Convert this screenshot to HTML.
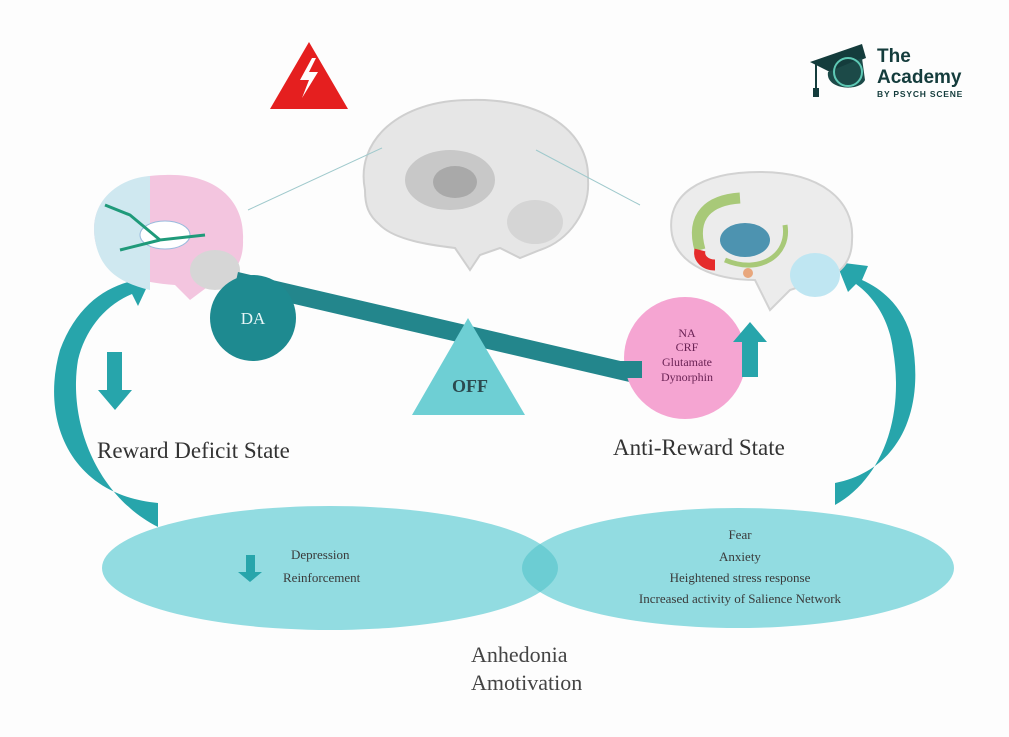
<!DOCTYPE html>
<html><head><meta charset="utf-8"><style>
html,body{margin:0;padding:0;background:#fff}
svg{display:block}
text{font-family:"Liberation Serif",serif}
</style></head><body>
<svg width="1009" height="737" viewBox="0 0 1009 737" xmlns="http://www.w3.org/2000/svg">
<rect width="1009" height="737" fill="#fdfdfd"/>
<!-- ellipses -->
<ellipse cx="330" cy="568" rx="228" ry="62" fill="#92dce1"/>
<ellipse cx="738" cy="568" rx="216" ry="60" fill="#92dce1"/>
<clipPath id="cl"><ellipse cx="330" cy="568" rx="228" ry="62"/></clipPath>
<ellipse cx="738" cy="568" rx="216" ry="60" fill="#6ccdd3" clip-path="url(#cl)"/>
<!-- left arc arrow -->
<path d="M158,503 C70,495 40,420 60,350 C75,310 100,290 128,282 L120,268 L152,276 L138,306 L132,294 C105,305 85,330 78,360 C68,420 95,495 158,527 Z" fill="#27a5ab"/>
<!-- right arc arrow -->
<path d="M835,483 C900,470 925,410 912,340 C905,310 885,290 862,280 L868,266 L836,262 L848,292 L856,284 C878,300 890,325 893,350 C905,420 880,480 835,505 Z" fill="#27a5ab"/>
<!-- warning -->
<polygon points="309,42 348,109 270,109" fill="#e51f1f"/>
<polygon points="312,58 300,80 309,80 302,98 318,72 309,72 316,58" fill="#fff"/>
<!-- center brain -->
<path d="M365,190 C355,140 400,100 470,100 C540,98 590,130 588,180 C590,210 570,240 540,250 L520,258 L500,248 L480,255 L470,270 L455,248 C430,245 395,240 380,225 C368,215 365,205 365,190 Z" fill="#e6e6e6" stroke="#cfcfcf" stroke-width="2"/>
<ellipse cx="450" cy="180" rx="45" ry="30" fill="#c8c8c8"/>
<ellipse cx="455" cy="182" rx="22" ry="16" fill="#a9a9a9"/>
<ellipse cx="535" cy="222" rx="28" ry="22" fill="#d5d5d5"/>
<line x1="248" y1="210" x2="382" y2="148" stroke="#9fc9cc" stroke-width="1"/>
<line x1="640" y1="205" x2="536" y2="150" stroke="#9fc9cc" stroke-width="1"/>
<!-- left brain -->
<path d="M95,240 C88,200 120,175 165,175 C215,173 245,200 243,240 C244,265 230,280 210,285 L190,300 L175,285 C140,283 100,272 95,240 Z" fill="#f3c5df"/>
<path d="M95,240 C88,200 120,178 150,176 L150,290 C120,283 100,270 95,240 Z" fill="#cfe8f0"/>
<ellipse cx="165" cy="235" rx="25" ry="14" fill="#fff" stroke="#9bd"/>
<ellipse cx="215" cy="270" rx="25" ry="20" fill="#d6d6d6"/>
<path d="M105,205 L130,215 L160,240 L205,235 M120,250 L160,240" stroke="#1f9a7a" stroke-width="3" fill="none"/>
<!-- right brain -->
<path d="M672,235 C665,195 700,172 760,172 C820,172 855,200 852,240 C852,262 840,275 820,280 L790,290 L770,310 L755,280 C715,280 678,265 672,235 Z" fill="#ececec" stroke="#d2d2d2" stroke-width="2"/>
<path d="M700,250 C690,215 710,200 740,198" stroke="#a8c978" stroke-width="11" fill="none"/>
<path d="M700,250 C698,258 705,265 715,265" stroke="#e52b2b" stroke-width="11" fill="none"/>
<ellipse cx="745" cy="240" rx="25" ry="17" fill="#4d93b0"/>
<path d="M725,260 C760,275 790,255 785,225" stroke="#a8c978" stroke-width="5" fill="none"/>
<ellipse cx="815" cy="275" rx="25" ry="22" fill="#bfe6f2"/>
<circle cx="748" cy="273" r="5" fill="#e8a77d"/>
<!-- beam -->
<polygon points="238,272 642,366 638,384 234,290" fill="#23868c"/>
<!-- DA circle -->
<circle cx="253" cy="318" r="43" fill="#1e8a90"/>
<text x="253" y="324" font-size="17" fill="#e8f6f7" text-anchor="middle">DA</text>
<!-- OFF triangle -->
<polygon points="468,318 525,415 412,415" fill="#6ecfd4"/>
<text x="470" y="392" font-size="18" font-weight="bold" fill="#2b4a4f" text-anchor="middle">OFF</text>
<!-- pink circle -->
<circle cx="685" cy="358" r="61" fill="#f5a5d2"/>
<rect x="620" y="361" width="22" height="17" fill="#23868c"/>
<g font-size="12" fill="#6a2255" text-anchor="middle">
<text x="687" y="337">NA</text><text x="687" y="351">CRF</text>
<text x="687" y="366">Glutamate</text><text x="687" y="381">Dynorphin</text></g>
<!-- up arrow -->
<polygon points="750,322 767,342 758,342 758,377 742,377 742,342 733,342" fill="#27a5ab"/>
<!-- down arrow left -->
<polygon points="107,352 122,352 122,390 132,390 115,410 98,390 107,390" fill="#27a5ab"/>
<polygon points="246,555 255,555 255,572 262,572 250,582 238,572 246,572" fill="#27a5ab"/>
<!-- labels -->
<text x="97" y="458" font-size="23" fill="#333">Reward Deficit State</text>
<text x="613" y="455" font-size="23" fill="#333">Anti-Reward State</text>
<g font-size="13" fill="#3a3a3a">
<text x="291" y="559">Depression</text><text x="283" y="582">Reinforcement</text></g>
<g font-size="13" fill="#3a3a3a" text-anchor="middle">
<text x="740" y="539">Fear</text><text x="740" y="561">Anxiety</text>
<text x="740" y="582">Heightened stress response</text>
<text x="740" y="603">Increased activity of Salience Network</text></g>
<text x="471" y="662" font-size="22" fill="#444">Anhedonia</text>
<text x="471" y="690" font-size="22" fill="#444">Amotivation</text>
<!-- logo -->
<polygon points="810,62 862,44 866,58 830,72" fill="#143c3c"/>
<path d="M828,72 C825,90 860,92 865,80 L862,58 Z" fill="#1c4a48"/>
<circle cx="848" cy="72" r="14" fill="none" stroke="#5ec9b5" stroke-width="2"/>
<line x1="816" y1="64" x2="816" y2="90" stroke="#143c3c" stroke-width="2"/>
<rect x="813" y="88" width="6" height="9" fill="#143c3c"/>
<g font-family="Liberation Sans,sans-serif" fill="#143c3c" font-weight="bold">
<text x="877" y="62" font-size="19" style="font-family:'Liberation Sans',sans-serif">The</text>
<text x="877" y="83" font-size="19" style="font-family:'Liberation Sans',sans-serif">Academy</text>
<text x="877" y="97" font-size="8.5" style="font-family:'Liberation Sans',sans-serif" letter-spacing="0.8">BY PSYCH SCENE</text></g>
</svg>
</body></html>
